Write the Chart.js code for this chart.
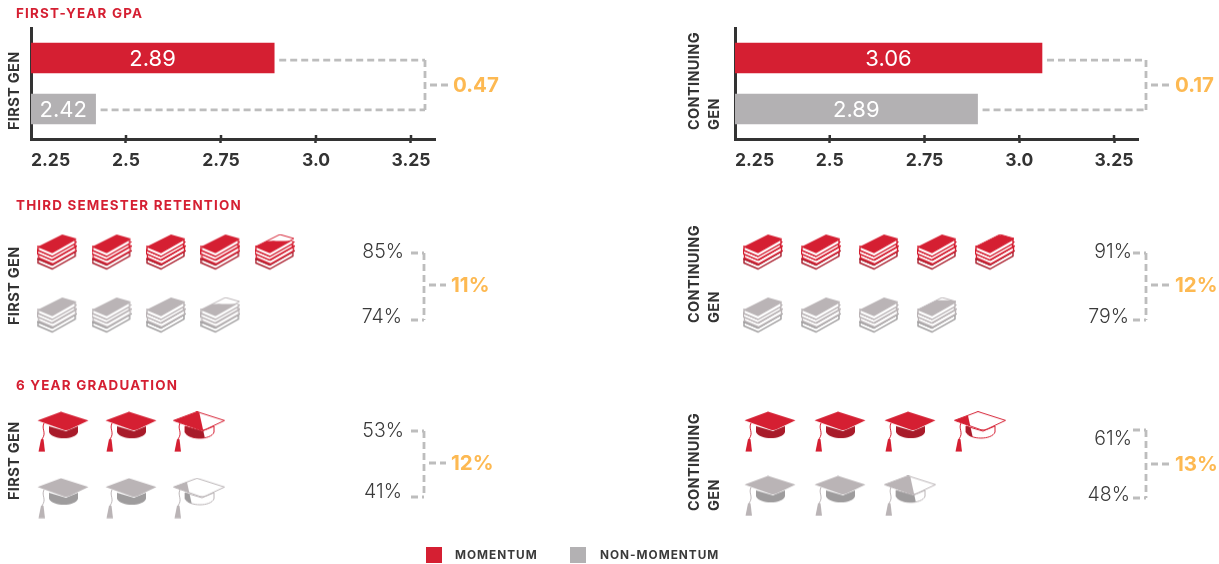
<!DOCTYPE html>
<html>
<head>
<meta charset="utf-8">
<title>Momentum and first-generation outcomes</title>
<script src="https://cdn.jsdelivr.net/npm/chart.js@4"></script>
<style>
  html, body { margin: 0; padding: 0; background: #fff; }
  #page { position: relative; width: 1219px; height: 564px; overflow: hidden; font-family: Inter, "Open Sans", sans-serif; }
  #page canvas { position: absolute; left: 0; top: 0; }
  .section-title { position: absolute; left: 16px; color: #d51f32; font-size: 13.4px; font-weight: 700; letter-spacing: 1.2px; white-space: nowrap; }
  .side-label { position: absolute; color: #333; font-size: 14.5px; font-weight: 700; letter-spacing: 0.35px; line-height: 20px; white-space: pre; transform-origin: 0 0; transform: rotate(-90deg); }
  .swatch { position: absolute; top: 547px; width: 16px; height: 16px; }
  .legend-label { position: absolute; top: 548px; color: #3a3a3a; font-size: 11.8px; font-weight: 700; letter-spacing: 1px; white-space: nowrap; }
</style>
</head>
<body>
<div id="page"></div>
<script>
// Values shown in each panel: [momentum, non-momentum]
const firstGenGpa = [2.89, 2.42];
const continuingGenGpa = [3.06, 2.89];
const firstGenGpaGap = '0.47';
const continuingGenGpaGap = '0.17';
const gpaTicks = [2.25, 2.5, 2.75, 3.0, 3.25];
const gpaTickLabels = ['2.25', '2.5', '2.75', '3.0', '3.25'];

const firstGenRetention = ['85%', '74%'];
const continuingGenRetention = ['91%', '79%'];
const firstGenRetentionGap = '11%';
const continuingGenRetentionGap = '12%';
// how many book icons are coloured in each row
const firstGenRetentionIcons = [4.8, 3.8];
const continuingGenRetentionIcons = [4.95, 3.9];

const firstGenGraduation = ['53%', '41%'];
const continuingGenGraduation = ['61%', '48%'];
const firstGenGraduationGap = '12%';
const continuingGenGraduationGap = '13%';
// how many cap icons are coloured in each row
const firstGenGraduationIcons = [2.5, 2.25];
const continuingGenGraduationIcons = [3.25, 2.5];

const seriesNames = ['Momentum', 'Non-momentum'];

const RED = '#d51f32';
const GRAY = '#b3b1b3';
const ICON_GRAY = '#bab4b6';
const DARK = '#333333';
const ORANGE = '#fdb952';
const DASH = '#bdbdbd';
const FONT = 'Inter, "Open Sans", sans-serif';

const page = document.getElementById('page');

// Dashed bracket joining two rows, with the gap written beside it
const drawBracket = (ctx, b) => {
    ctx.save();
    ctx.strokeStyle = DASH;
    ctx.lineWidth = 2.8;
    ctx.setLineDash([7, 4]);
    const lines = [
        [b.topStart, b.top, b.x, b.top],
        [b.bottomStart, b.bottom, b.x, b.bottom],
        [b.x, b.top, b.x, b.bottom],
        [b.x + 5, b.stemY, b.stemEnd, b.stemY]
    ];
    lines.forEach(l => {
        ctx.beginPath();
        ctx.moveTo(l[0], l[1]);
        ctx.lineTo(l[2], l[3]);
        ctx.stroke();
    });
    ctx.setLineDash([]);
    ctx.fillStyle = ORANGE;
    ctx.font = '700 20.5px ' + FONT;
    ctx.textAlign = 'left';
    ctx.textBaseline = 'middle';
    ctx.fillText(b.gap, b.stemEnd + 5, b.stemY + 1);
    ctx.restore();
};

// Value written in the middle of each bar
const barLabelsPlugin = {
    id: 'barLabels',
    afterDraw(chart) {
        const ctx = chart.ctx;
        ctx.save();
        ctx.fillStyle = '#fff';
        ctx.font = '400 22px ' + FONT;
        ctx.textAlign = 'center';
        ctx.textBaseline = 'middle';
        chart.data.datasets.forEach((ds, i) => {
            const bar = chart.getDatasetMeta(i).data[0];
            ctx.fillText(ds.data[0].x.toFixed(2), (bar.x + chart.chartArea.left) / 2, bar.y + 1);
        });
        ctx.restore();
    }
};

// Connector from the bar ends to the gap figure
const barBracketPlugin = {
    id: 'barBracket',
    afterDraw(chart, args, opts) {
        const bars = chart.data.datasets.map((ds, i) => chart.getDatasetMeta(i).data[0]);
        drawBracket(chart.ctx, {
            x: opts.x,
            top: bars[0].y + 2,
            bottom: bars[1].y + 1,
            topStart: bars[0].x + 5,
            bottomStart: bars[1].x + 5,
            stemY: opts.stemY,
            stemEnd: opts.stemEnd,
            gap: opts.gap
        });
    }
};

// Tick stubs above the axis line, the library only draws them below
const tickStubsPlugin = {
    id: 'tickStubs',
    afterDraw(chart) {
        const scale = chart.scales.x;
        const ctx = chart.ctx;
        ctx.save();
        ctx.strokeStyle = DARK;
        ctx.lineWidth = 2.5;
        gpaTicks.slice(1).forEach(v => {
            const px = scale.getPixelForValue(v);
            ctx.beginPath();
            ctx.moveTo(px, chart.chartArea.bottom - 4);
            ctx.lineTo(px, chart.chartArea.bottom);
            ctx.stroke();
        });
        ctx.restore();
    }
};

// Percent labels and bracket beside an icon row pair
const iconBracketPlugin = {
    id: 'iconBracket',
    afterDraw(chart, args, opts) {
        const ctx = chart.ctx;
        ctx.save();
        ctx.fillStyle = '#3a3a3a';
        ctx.font = '300 19.5px ' + FONT;
        ctx.textAlign = 'right';
        ctx.textBaseline = 'middle';
        opts.values.forEach((v, i) => ctx.fillText(v, opts.labelRight[i], opts.labelY[i]));
        ctx.restore();
        drawBracket(ctx, {
            x: opts.x,
            top: opts.top,
            bottom: opts.bottom,
            topStart: opts.x - 13,
            bottomStart: opts.x - 13,
            stemY: opts.stemY,
            stemEnd: opts.stemEnd,
            gap: opts.gap
        });
    }
};

const newCanvas = () => {
    const canvas = document.createElement('canvas');
    canvas.width = 1219;
    canvas.height = 564;
    page.appendChild(canvas);
    return canvas;
};

// Horizontal bar panel on the GPA axis
const gpaPanel = (values, gap, area, bracket) => {
    const max = 2.25 + (area.right - area.left) / area.perUnit;
    new Chart(newCanvas(), {
        type: 'bar',
        data: {
            datasets: [
                { label: seriesNames[0], data: [{ x: values[0], y: 0 }], backgroundColor: RED },
                { label: seriesNames[1], data: [{ x: values[1], y: 1 }], backgroundColor: GRAY }
            ]
        },
        options: {
            indexAxis: 'y',
            responsive: false,
            animation: false,
            events: [],
            layout: { padding: { left: area.left, top: area.top, right: 1219 - area.right, bottom: 564 - area.bottom - 40 } },
            datasets: { bar: { barThickness: 30, grouped: false } },
            plugins: {
                legend: { display: false },
                tooltip: { enabled: false },
                barBracket: Object.assign({ gap: gap }, bracket)
            },
            scales: {
                x: {
                    type: 'linear',
                    min: 2.25,
                    max: max,
                    afterFit: s => { s.height = 40; },
                    afterBuildTicks: s => { s.ticks = gpaTicks.concat([max]).map(v => ({ value: v })); },
                    border: { color: DARK, width: 3 },
                    grid: {
                        drawOnChartArea: false,
                        tickLength: 4,
                        tickWidth: 2.5,
                        tickColor: c => (c.index === 0 || c.index === gpaTicks.length ? 'transparent' : DARK)
                    },
                    ticks: {
                        align: 'inner',
                        autoSkip: false,
                        maxRotation: 0,
                        padding: 7,
                        color: DARK,
                        font: { family: FONT, size: 17.5, weight: '700' },
                        callback: (v, i) => gpaTickLabels[i] || ''
                    }
                },
                y: {
                    type: 'linear',
                    offset: false,
                    reverse: true,
                    min: -0.59,
                    max: 1.59,
                    afterFit: s => { s.width = 0; },
                    border: { color: DARK, width: 3 },
                    grid: { display: false },
                    ticks: { display: false }
                }
            }
        },
        plugins: [barLabelsPlugin, tickStubsPlugin, barBracketPlugin]
    });
};

const bookFilled = (ctx, color, dark) => {
    const slab = (dx, dy, top, edge) => {
        ctx.fillStyle = '#fff';
        ctx.strokeStyle = edge;
        ctx.lineWidth = 1.4;
        ctx.beginPath();
        ctx.moveTo(1 + dx, 13 + dy);
        ctx.lineTo(15 + dx, 19 + dy);
        ctx.lineTo(38 + dx, 6 + dy);
        ctx.lineTo(38 + dx, 10 + dy);
        ctx.lineTo(15 + dx, 23 + dy);
        ctx.lineTo(1 + dx, 17 + dy);
        ctx.closePath();
        ctx.fill();
        ctx.stroke();
        ctx.fillStyle = top;
        ctx.beginPath();
        ctx.moveTo(1 + dx, 13 + dy);
        ctx.lineTo(25 + dx, 1 + dy);
        ctx.lineTo(39 + dx, 5 + dy);
        ctx.lineTo(15 + dx, 19 + dy);
        ctx.closePath();
        ctx.fill();
        if (top === '#fff') ctx.stroke();
    };
    slab(0, 12.5, '#fff', dark);
    slab(0.5, 7.5, '#fff', color);
    slab(-0.5, 3.5, '#fff', color);
    slab(0, 0, color, color);
};

const bookEmpty = (ctx, color) => {
    ctx.fillStyle = '#fff';
    ctx.strokeStyle = color;
    ctx.lineWidth = 1;
    ctx.beginPath();
    ctx.moveTo(1, 13);
    ctx.lineTo(25, 1);
    ctx.lineTo(39, 5);
    ctx.lineTo(15, 19);
    ctx.closePath();
    ctx.fill();
    ctx.stroke();
};

// Book icon coloured from the bottom up by share
const bookIcon = (color, dark, share) => {
    const c = document.createElement('canvas');
    c.width = 40;
    c.height = 37;
    const ctx = c.getContext('2d');
    if (share < 1) bookEmpty(ctx, color);
    ctx.save();
    ctx.beginPath();
    ctx.rect(0, (1 - share) * 37, 40, 37);
    ctx.clip();
    bookFilled(ctx, color, dark);
    ctx.restore();
    return c;
};

const capBoard = ctx => {
    ctx.beginPath();
    ctx.moveTo(0.5, 9.3);
    ctx.lineTo(24, 0.5);
    ctx.lineTo(51.5, 9.3);
    ctx.lineTo(33, 18);
    ctx.quadraticCurveTo(30, 19.5, 27, 18.7);
    ctx.closePath();
};

const capSkull = ctx => {
    ctx.beginPath();
    ctx.moveTo(12, 15);
    ctx.lineTo(12, 21);
    ctx.bezierCurveTo(16, 29, 38, 29, 41, 21);
    ctx.lineTo(41, 15);
    ctx.lineTo(29, 20);
    ctx.closePath();
};

const capTassel = (ctx, color) => {
    ctx.strokeStyle = color;
    ctx.lineWidth = 1;
    ctx.beginPath();
    ctx.moveTo(7, 12);
    ctx.bezierCurveTo(4, 18, 10, 21, 5, 28);
    ctx.stroke();
    ctx.fillStyle = color;
    ctx.beginPath();
    ctx.moveTo(4, 28);
    ctx.lineTo(6.5, 28);
    ctx.lineTo(8, 40.5);
    ctx.lineTo(1.5, 40.5);
    ctx.closePath();
    ctx.fill();
};

// Graduation cap icon coloured from the left by share
const capIcon = (color, dark, share) => {
    const c = document.createElement('canvas');
    c.width = 52;
    c.height = 41;
    const ctx = c.getContext('2d');
    if (share < 1) {
        ctx.strokeStyle = color;
        ctx.fillStyle = '#fff';
        ctx.lineWidth = 1;
        capSkull(ctx);
        ctx.fill();
        ctx.stroke();
        capBoard(ctx);
        ctx.fill();
        ctx.stroke();
    }
    ctx.save();
    ctx.beginPath();
    ctx.moveTo(0, 0);
    ctx.lineTo(share * 52, 0);
    ctx.lineTo(share * 52 + 9, 41);
    ctx.lineTo(0, 41);
    ctx.closePath();
    ctx.clip();
    capTassel(ctx, color);
    ctx.fillStyle = dark;
    capSkull(ctx);
    ctx.fill();
    ctx.fillStyle = color;
    capBoard(ctx);
    ctx.fill();
    ctx.restore();
    return c;
};

// Points for one row of icons: one slot per started icon
const iconRow = (count, row, makeIcon, color, dark) => {
    const points = [];
    const styles = [];
    for (let slot = 1; slot <= Math.ceil(count); slot++) {
        points.push({ x: slot, y: row });
        styles.push(makeIcon(color, dark, Math.min(1, count - slot + 1)));
    }
    return { points, styles };
};

// Pictogram panel: icons placed on hidden slot and row scales
const iconPanel = (counts, makeIcon, area, slots, bracket) => {
    const rows = counts.map((count, i) => iconRow(count, i + 1, makeIcon, iconColors[i][0], iconColors[i][1]));
    new Chart(newCanvas(), {
        type: 'scatter',
        data: {
            datasets: rows.map((r, i) => ({
                label: seriesNames[i],
                data: r.points,
                pointStyle: r.styles,
                clip: false
            }))
        },
        options: {
            responsive: false,
            animation: false,
            events: [],
            layout: { padding: { left: area.left, top: area.top, right: 1219 - area.right, bottom: 564 - area.bottom } },
            plugins: {
                legend: { display: false },
                tooltip: { enabled: false },
                iconBracket: bracket
            },
            scales: {
                x: { type: 'linear', display: false, min: 0.5, max: slots + 0.5 },
                y: { type: 'linear', display: false, reverse: true, min: 0.5, max: 2.5 }
            }
        },
        plugins: [iconBracketPlugin]
    });
};

const iconColors = [[RED, '#a81b2a'], [ICON_GRAY, '#9e9c9d']];

gpaPanel(firstGenGpa, firstGenGpaGap,
    { left: 31, right: 435, top: 28, bottom: 139, perUnit: 380 },
    { x: 425, stemY: 85, stemEnd: 448 });
gpaPanel(continuingGenGpa, continuingGenGpaGap,
    { left: 735, right: 1138, top: 28, bottom: 139, perUnit: 379 },
    { x: 1146, stemY: 85, stemEnd: 1170 });

iconPanel(firstGenRetentionIcons, bookIcon,
    { left: 30, right: 302, top: 220.5, bottom: 346.5 }, 5,
    { values: firstGenRetention, gap: firstGenRetentionGap, labelRight: [404, 402], labelY: [252, 317],
      x: 424, top: 253, bottom: 320, stemY: 285, stemEnd: 446 });
iconPanel(continuingGenRetentionIcons, bookIcon,
    { left: 734, right: 1024, top: 220.5, bottom: 346.5 }, 5,
    { values: continuingGenRetention, gap: continuingGenRetentionGap, labelRight: [1132, 1129], labelY: [252, 317],
      x: 1146, top: 253, bottom: 320, stemY: 285, stemEnd: 1170 });

iconPanel(firstGenGraduationIcons, capIcon,
    { left: 29, right: 233, top: 398.5, bottom: 531.5 }, 3,
    { values: firstGenGraduation, gap: firstGenGraduationGap, labelRight: [404, 402], labelY: [431, 492],
      x: 424, top: 431, bottom: 497, stemY: 463, stemEnd: 446 });
iconPanel(continuingGenGraduationIcons, capIcon,
    { left: 735, right: 1015, top: 399.5, bottom: 528 }, 4,
    { values: continuingGenGraduation, gap: continuingGenGraduationGap, labelRight: [1132, 1130], labelY: [439, 495],
      x: 1146, top: 430, bottom: 498, stemY: 464, stemEnd: 1170 });

// Headings, rotated row group labels and the shared legend
const addBox = (className, text, styles) => {
    const el = document.createElement('div');
    el.className = className;
    el.textContent = text;
    Object.assign(el.style, styles);
    page.appendChild(el);
};

addBox('section-title', 'FIRST-YEAR GPA', { top: '5px' });
addBox('section-title', 'THIRD SEMESTER RETENTION', { top: '197px' });
addBox('section-title', '6 YEAR GRADUATION', { top: '377px' });

const sideLabelBottoms = [130, 325, 500];
const continuingLabelBottoms = [130, 323, 511];
sideLabelBottoms.forEach(y => addBox('side-label', 'FIRST GEN', { left: '4px', top: y + 'px' }));
continuingLabelBottoms.forEach(y => addBox('side-label', 'CONTINUING\nGEN', { left: '684px', top: y + 'px' }));

addBox('swatch', '', { left: '426px', background: RED });
addBox('legend-label', 'MOMENTUM', { left: '455px' });
addBox('swatch', '', { left: '570px', background: GRAY });
addBox('legend-label', 'NON-MOMENTUM', { left: '600px' });
</script>
</body>
</html>
